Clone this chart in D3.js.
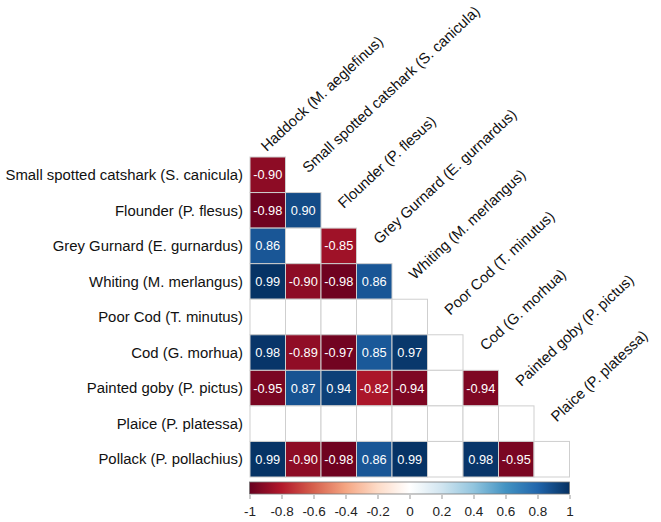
<!DOCTYPE html>
<html>
<head>
<meta charset="utf-8">
<script src="https://cdn.jsdelivr.net/npm/d3@7"></script>
<style>
  html, body { margin: 0; padding: 0; background: #fff; }
  svg { display: block; font-family: "Liberation Sans", Arial, sans-serif; }
</style>
</head>
<body>
<svg id="chart" width="661" height="522"></svg>
<script>
// ---------------- data ----------------
const rowLabels = [
  "Small spotted catshark (S. canicula)",
  "Flounder (P. flesus)",
  "Grey Gurnard (E. gurnardus)",
  "Whiting (M. merlangus)",
  "Poor Cod (T. minutus)",
  "Cod (G. morhua)",
  "Painted goby (P. pictus)",
  "Plaice (P. platessa)",
  "Pollack (P. pollachius)"
];
const colLabels = [
  "Haddock (M. aeglefinus)",
  "Small spotted catshark (S. canicula)",
  "Flounder (P. flesus)",
  "Grey Gurnard (E. gurnardus)",
  "Whiting (M. merlangus)",
  "Poor Cod (T. minutus)",
  "Cod (G. morhua)",
  "Painted goby (P. pictus)",
  "Plaice (P. platessa)"
];
// lower-triangular correlations, null = blank cell
const corrRows = [
  [-0.90],
  [-0.98, 0.90],
  [0.86, null, -0.85],
  [0.99, -0.90, -0.98, 0.86],
  [null, null, null, null, null],
  [0.98, -0.89, -0.97, 0.85, 0.97, null],
  [-0.95, 0.87, 0.94, -0.82, -0.94, null, -0.94],
  [null, null, null, null, null, null, null, null],
  [0.99, -0.90, -0.98, 0.86, 0.99, null, 0.98, -0.95, null]
];
const colorbarTicks = [-1, -0.8, -0.6, -0.4, -0.2, 0, 0.2, 0.4, 0.6, 0.8, 1];
const paletteStops = ["#67001F", "#B2182B", "#D6604D", "#F4A582", "#FDDBC7", "#FFFFFF",
                      "#D1E5F0", "#92C5DE", "#4393C3", "#2166AC", "#053061"];

// ---------------- layout ----------------
const svg = d3.select("#chart");
const gridLeft = 250, gridRight = 569.5, gridTop = 157, gridBottom = 477;

const x = d3.scaleBand().domain(colLabels).range([gridLeft, gridRight]).padding(0);
const y = d3.scaleBand().domain(rowLabels).range([gridTop, gridBottom]).padding(0);
const color = d3.scaleLinear()
  .domain(d3.range(paletteStops.length).map(i => -1 + 2 * i / (paletteStops.length - 1)))
  .range(paletteStops)
  .interpolate(d3.interpolateRgb);

const cells = [];
corrRows.forEach((row, i) => {
  row.forEach((v, j) => cells.push({ row: rowLabels[i], col: colLabels[j], v }));
});

const gCells = svg.append("g");
gCells.selectAll("rect").data(cells).join("rect")
  .attr("x", d => x(d.col))
  .attr("y", d => y(d.row))
  .attr("width", x.bandwidth())
  .attr("height", y.bandwidth())
  .attr("fill", d => d.v == null ? "#ffffff" : color(d.v))
  .attr("stroke", "#cfcfcf")
  .attr("stroke-width", 1);

gCells.selectAll("text").data(cells.filter(d => d.v != null)).join("text")
  .attr("x", d => x(d.col) + x.bandwidth() / 2)
  .attr("y", d => y(d.row) + y.bandwidth() / 2)
  .attr("dy", "0.36em")
  .attr("text-anchor", "middle")
  .attr("fill", "#ffffff")
  .attr("font-size", 12.8)
  .text(d => d3.format(".2f")(d.v).replace("−", "-"));

// row labels
svg.append("g").selectAll("text").data(rowLabels).join("text")
  .attr("x", gridLeft - 7)
  .attr("y", d => y(d) + y.bandwidth() / 2)
  .attr("dy", "0.35em")
  .attr("text-anchor", "end")
  .attr("font-size", 14.9)
  .attr("fill", "#111")
  .text(d => d);

// column labels (rotated, anchored above top cell of each column)
const labelNudge = [[-6, 14]];
svg.append("g").selectAll("text").data(colLabels).join("text")
  .attr("transform", (d, j) => {
    const n = labelNudge[j] || [0, 0];
    const lx = x(d) + x.bandwidth() / 2 + 5 + n[0];
    const ly = y(rowLabels[j]) - 19 + n[1];
    return `translate(${lx},${ly}) rotate(-43)`;
  })
  .attr("text-anchor", "start")
  .attr("font-size", 14.8)
  .attr("fill", "#111")
  .text(d => d);

// ---------------- colour bar ----------------
const cbTop = 482, cbH = 12;
const cbScale = d3.scaleLinear().domain([-1, 1]).range([249.5, 569.5]);
const defs = svg.append("defs");
const grad = defs.append("linearGradient").attr("id", "cbgrad")
  .attr("x1", "0%").attr("x2", "100%").attr("y1", "0%").attr("y2", "0%");
grad.selectAll("stop").data(d3.range(0, 1.0001, 0.02)).join("stop")
  .attr("offset", t => (t * 100) + "%")
  .attr("stop-color", t => color(-1 + 2 * t));

svg.append("rect")
  .attr("x", cbScale(-1)).attr("y", cbTop)
  .attr("width", cbScale(1) - cbScale(-1)).attr("height", cbH)
  .attr("fill", "url(#cbgrad)")
  .attr("stroke", "#777").attr("stroke-width", 0.8);

const axis = d3.axisBottom(cbScale)
  .tickValues(colorbarTicks)
  .tickSize(4)
  .tickPadding(7)
  .tickFormat(d => d === 0 ? "0" : String(d).replace("−", "-"));
const gAxis = svg.append("g").attr("transform", `translate(0,${cbTop + cbH + 1})`).call(axis);
gAxis.select(".domain").remove();
gAxis.selectAll(".tick line").attr("stroke", "#999");
gAxis.selectAll(".tick text")
  .attr("font-size", 13.5)
  .attr("fill", "#222")
  .attr("font-family", "Liberation Sans, Arial, sans-serif");
</script>
</body>
</html>
